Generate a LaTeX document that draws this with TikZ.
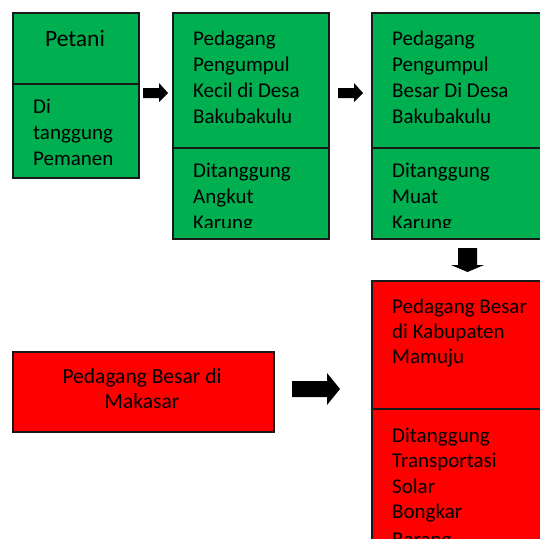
\documentclass[tikz,border=0pt]{standalone}
\usepackage{fontspec}
\setmainfont{Carlito}
\definecolor{boxgreen}{HTML}{00B050}
\definecolor{boxred}{HTML}{FF0000}
\begin{document}
\begin{tikzpicture}[x=1pt,y=-1pt,
  cell/.style={draw=black!90, line width=1.8pt, anchor=north west, inner sep=0pt},
  greencell/.style={cell, fill=boxgreen},
  redcell/.style={cell, fill=boxred},
  txt/.style={anchor=base west, inner sep=0pt, font=\fontsize{21}{26}\selectfont},
  ctxt/.style={txt, anchor=base},
  blockarrow/.style={fill=black}]
\useasboundingbox (0,0) rectangle (540,538);
\clip (0,0) rectangle (540,538);

% boxes
\node[greencell, minimum width=126pt, minimum height=71pt] (b1top) at (12,12) {};
\node[greencell, minimum width=126pt, minimum height=94pt] (b1bot) at (12,83) {};
\node[greencell, minimum width=156pt, minimum height=135pt] (b2top) at (172,12) {};
\node[greencell, minimum width=156pt, minimum height=91pt] (b2bot) at (172,147) {};
\node[greencell, minimum width=185pt, minimum height=135pt] (b3top) at (371,12) {};
\node[greencell, minimum width=185pt, minimum height=91pt] (b3bot) at (371,147) {};
\node[redcell, minimum width=185pt, minimum height=128pt] (b4top) at (371,280) {};
\node[redcell, minimum width=185pt, minimum height=160pt] (b4bot) at (371,408) {};
\node[redcell, minimum width=261pt, minimum height=80pt] (b5) at (12,351) {};

% box 1 text
\node[ctxt, font=\fontsize{23.5}{28}\selectfont] (t1a) at (75,46) {Petani};
\node[txt] (t1b) at (33,113) {Di};
\node[txt] (t1c) at (33,139) {tanggung};
\node[txt] (t1d) at (33,165) {Pemanen};

% box 2 text
\node[txt] (t2a) at (193,45) {Pedagang};
\node[txt] (t2b) at (193,71) {Pengumpul};
\node[txt] (t2c) at (193,97) {Kecil di Desa};
\node[txt] (t2d) at (193,123) {Bakubakulu};
\begin{scope}
\clip (172,147) rectangle (328,227);
\node[txt] (t2e) at (193,177) {Ditanggung};
\node[txt] (t2f) at (193,203) {Angkut};
\node[txt] (t2g) at (193,229) {Karung};
\end{scope}

% box 3 text
\node[txt] (t3a) at (392,45) {Pedagang};
\node[txt] (t3b) at (392,71) {Pengumpul};
\node[txt] (t3c) at (392,97) {Besar Di Desa};
\node[txt] (t3d) at (392,123) {Bakubakulu};
\begin{scope}
\clip (371,147) rectangle (545,227);
\node[txt] (t3e) at (392,177) {Ditanggung};
\node[txt] (t3f) at (392,203) {Muat};
\node[txt] (t3g) at (392,229) {Karung};
\end{scope}

% box 4 text
\node[txt] (t4a) at (392,313) {Pedagang Besar};
\node[txt] (t4b) at (392,338) {di Kabupaten};
\node[txt] (t4c) at (392,363) {Mamuju};
\node[txt] (t4d) at (392,442) {Ditanggung};
\node[txt] (t4e) at (392,467) {Transportasi};
\node[txt] (t4f) at (392,493) {Solar};
\node[txt] (t4g) at (392,518) {Bongkar};
\node[txt] (t4h) at (392,546) {Barang};

% box 5 text
\node[ctxt, font=\fontsize{21.5}{26}\selectfont] (t5a) at (142,383) {Pedagang Besar di};
\node[ctxt, font=\fontsize{21.5}{26}\selectfont] (t5b) at (142,408) {Makasar};

% block arrows
\fill[blockarrow] (143,88) -- (159,88) -- (159,83) -- (168,93) -- (159,102) -- (159,98) -- (143,98) -- cycle;
\fill[blockarrow] (338,88) -- (354,88) -- (354,83) -- (363,93) -- (354,102) -- (354,98) -- (338,98) -- cycle;
\fill[blockarrow] (458,248) -- (477,248) -- (477,265) -- (484,265) -- (467.5,272) -- (451,265) -- (458,265) -- cycle;
\fill[blockarrow] (292,381) -- (327,381) -- (327,373) -- (340,389) -- (327,405) -- (327,397) -- (292,397) -- cycle;
\end{tikzpicture}
\end{document}
